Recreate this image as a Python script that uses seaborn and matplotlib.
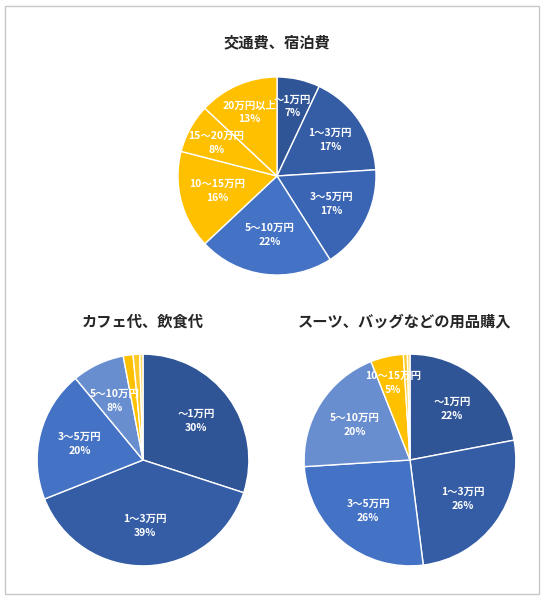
import numpy as np
import matplotlib.pyplot as plt
import seaborn as sns
from matplotlib.patches import Rectangle

sns.set_theme(style="white")
plt.rcParams['font.family'] = ['Noto Sans CJK JP', 'DejaVu Sans']

# ==== Data ====
top_labels = ["～1万円", "1～3万円", "3～5万円", "5～10万円", "10～15万円", "15～20万円", "20万円以上"]
top_values = [7, 17, 17, 22, 16, 8, 13]

left_labels = ["～1万円", "1～3万円", "3～5万円", "5～10万円", "", "", ""]
left_values = [30, 39, 20, 8, 1.5, 1, 0.5]

right_labels = ["～1万円", "1～3万円", "3～5万円", "5～10万円", "10～15万円", "", ""]
right_values = [22, 26, 26, 20, 5, 0.6, 0.4]

colors = ["#2F5597", "#345DA6", "#4472C4", "#698ED0", "#FFC000", "#FFCA28", "#FFD966"]
top_colors = ["#2F5597", "#345DA6", "#3A64B4", "#4472C4", "#FFC000", "#FFC000", "#FFC000"]

W, H = 544, 600
fig = plt.figure(figsize=(W / 100, H / 100), dpi=100)
fig.patches.append(Rectangle((0.01, 0.01), 0.98, 0.98, transform=fig.transFigure,
                             fill=False, edgecolor="#C8C8C8", linewidth=1))


def draw_pie(cx, cy, r, values, labels, cols, lab_r=0.62):
    # cx, cy, r in pixels from top-left
    ax = fig.add_axes([(cx - r) / W, (H - cy - r) / H, 2 * r / W, 2 * r / H])
    wedges, _ = ax.pie(values, colors=cols, startangle=90, counterclock=False, radius=1,
                       wedgeprops=dict(edgecolor="white", linewidth=1))
    for w, lab, v in zip(wedges, labels, values):
        if not lab:
            continue
        ang = np.deg2rad((w.theta1 + w.theta2) / 2)
        rr = lab_r[labels.index(lab)] if isinstance(lab_r, list) else lab_r
        ax.text(rr * np.cos(ang), rr * np.sin(ang), f"{lab}\n{v:g}%", ha="center", va="center",
                color="white", fontsize=7.5, fontweight="bold", linespacing=1.5)
    ax.set_xlim(-1.02, 1.02)
    ax.set_ylim(-1.02, 1.02)
    ax.set_aspect("equal")
    ax.axis("off")
    return ax


draw_pie(277, 176, 101, top_values, top_labels, top_colors,
         lab_r=[0.72, 0.65, 0.62, 0.6, 0.62, 0.7, 0.7])
draw_pie(143, 460, 108, left_values, left_labels, colors)
draw_pie(410, 460, 108, right_values, right_labels, colors,
         lab_r=[0.62, 0.62, 0.62, 0.62, 0.75, 0.6, 0.6])

fig.text(277 / W, 1 - 42 / H, "交通費、宿泊費", ha="center", va="center",
         fontsize=11, fontweight="bold")
fig.text(143 / W, 1 - 322 / H, "カフェ代、飲食代", ha="center", va="center",
         fontsize=11, fontweight="bold")
fig.text(405 / W, 1 - 322 / H, "スーツ、バッグなどの用品購入", ha="center", va="center",
         fontsize=11, fontweight="bold")

fig.savefig("out.png", dpi=100)
